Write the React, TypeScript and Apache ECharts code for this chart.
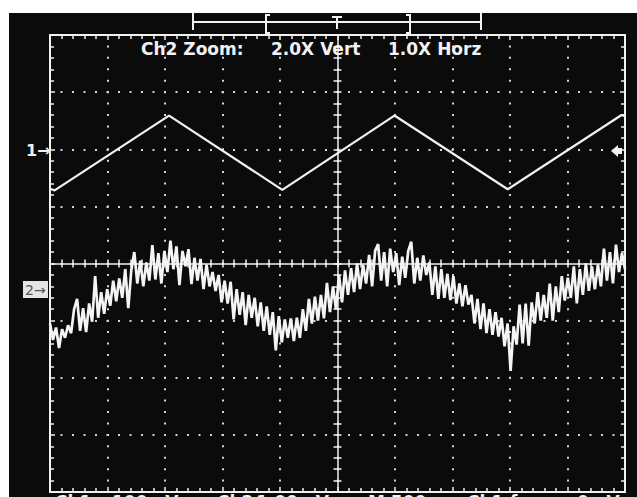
import React, { useEffect, useRef } from "react";
import * as echarts from "echarts";

// Horizontal: divisions from screen centre (500 ns/div); vertical: divisions from screen centre
const ch1Time = [-5, -4.92, -2.93, -0.96, 0.99, 2.96, 4.94, 5];
const ch1Level = [1.31, 1.28, 2.59, 1.29, 2.59, 1.3, 2.6, 2.58];

const ch2Level = [
  -1.05, -1.34, -1.12, -1.48, -1.15, -1.3, -1.08, -1.22, -0.8, -0.62,
  -1.18, -0.78, -1.2, -0.7, -1.02, -0.22, -0.95, -0.5, -0.88, -0.45,
  -0.74, -0.3, -0.66, -0.26, -0.6, -0.1, -0.78, -0.12, 0.2, -0.35,
  0.05, -0.4, 0.02, -0.3, 0.32, -0.28, 0.18, -0.35, 0.22, -0.15,
  0.4, -0.1, 0.3, -0.38, 0.22, -0.05, 0.25, -0.36, 0.1, -0.3,
  0.08, -0.45, -0.02, -0.4, -0.15, -0.48, -0.2, -0.68, -0.3, -0.7,
  -0.32, -0.98, -0.45, -0.9, -0.5, -1.08, -0.55, -0.95, -0.6, -1.1,
  -0.68, -1.18, -0.75, -1.25, -0.85, -1.52, -0.92, -1.38, -0.98, -1.3,
  -0.96, -1.36, -0.95, -1.3, -0.8, -1.18, -0.62, -1.05, -0.58, -1.0,
  -0.55, -0.96, -0.34, -0.85, -0.4, -0.8, -0.2, -0.68, -0.12, -0.55,
  -0.08, -0.5, 0.0, -0.45, -0.02, -0.35, 0.15, -0.4, 0.22, 0.34,
  -0.3, 0.2, -0.4, 0.26, -0.15, 0.18, -0.38, 0.12, -0.25, 0.22,
  0.38, -0.35, 0.1, -0.3, 0.14, -0.2, 0.02, -0.55, -0.05, -0.62,
  -0.1, -0.6, -0.18, -0.64, -0.22, -0.7, -0.35, -0.75, -0.38, -0.72,
  -0.55, -1.05, -0.62, -1.15, -0.7, -1.22, -0.8, -1.25, -0.85, -1.28,
  -0.95, -1.45, -1.05, -1.88, -1.1, -1.42, -0.72, -1.4, -0.7, -1.44,
  -0.68, -1.05, -0.5, -1.0, -0.55, -0.95, -0.35, -1.0, -0.4, -0.85,
  -0.22, -0.65, -0.25, -0.6, -0.05, -0.7, -0.1, -0.55, 0.0, -0.48,
  -0.05, -0.45, -0.02, -0.4, 0.26, -0.3, 0.2, -0.35, 0.33, -0.15,
  0.18, -0.1,
];

const headerTexts = ["Ch2 Zoom:", "2.0X Vert", "1.0X Horz"];
const footerTexts = ["Ch1", "100mV", "Ch2", "1.00mV", "M 500ns", "Ch1", "ƒ", "0mV"];

const TIME_MIN = -5;
const TIME_MAX = 5;
const LEVEL_MIN = -4;
const LEVEL_MAX = 4;

export default function App() {
  const ref = useRef<HTMLDivElement>(null);

  useEffect(() => {
    document.body.style.margin = "0";
    const chart = echarts.init(ref.current!, null, { renderer: "svg" });
    const white = "#f2f2f2";
    const dotColor = "#d6d6d6";
    const tickStyle = { color: white, width: 1.5 };

    const n = ch2Level.length;
    const ch2Data = ch2Level.map((v, i) => [TIME_MIN + (i * (TIME_MAX - TIME_MIN)) / (n - 1), v]);
    const ch1Data = ch1Time.map((t, i) => [t, ch1Level[i]]);

    const xBase = {
      type: "value",
      min: TIME_MIN,
      max: TIME_MAX,
      interval: 1,
      axisLabel: { show: false },
    };
    const yBase = {
      type: "value",
      min: LEVEL_MIN,
      max: LEVEL_MAX,
      interval: 1,
      axisLabel: { show: false },
    };

    const headerX = [141, 271, 388];
    const footerX = [55, 112, 217, 256, 368, 467, 510, 577];

    chart.setOption({
      animation: false,
      backgroundColor: "#0b0b0b",
      grid: { left: 50, top: 35, width: 575, height: 457 },
      xAxis: [
        {
          ...xBase,
          position: "bottom",
          axisLine: { show: true, onZero: false, lineStyle: { color: white, width: 2 } },
          axisTick: { show: true, inside: true, length: 5, lineStyle: tickStyle },
          minorTick: { show: true, splitNumber: 5, length: 4, lineStyle: tickStyle },
          splitLine: { show: true, lineStyle: { color: dotColor, width: 2, type: [2, 9.425], dashOffset: 1 } },
        },
        {
          ...xBase,
          position: "top",
          axisLine: { show: true, onZero: false, lineStyle: { color: white, width: 2 } },
          axisTick: { show: true, inside: true, length: 5, lineStyle: tickStyle },
          minorTick: { show: true, splitNumber: 5, length: 4, lineStyle: tickStyle },
          splitLine: { show: false },
        },
        {
          ...xBase,
          position: "bottom",
          axisLine: { show: true, onZero: true, onZeroAxisIndex: 0, lineStyle: { color: white, width: 1.5 } },
          axisTick: { show: true, inside: true, length: 4, lineStyle: tickStyle },
          minorTick: { show: true, splitNumber: 5, length: 4, lineStyle: tickStyle },
          splitLine: { show: false },
        },
        {
          ...xBase,
          position: "bottom",
          axisLine: { show: false, onZero: true, onZeroAxisIndex: 0 },
          axisTick: { show: true, inside: false, length: 4, lineStyle: tickStyle },
          minorTick: { show: true, splitNumber: 5, length: 4, lineStyle: tickStyle },
          splitLine: { show: false },
        },
      ],
      yAxis: [
        {
          ...yBase,
          position: "left",
          axisLine: { show: true, onZero: false, lineStyle: { color: white, width: 2 } },
          axisTick: { show: true, inside: true, length: 5, lineStyle: tickStyle },
          minorTick: { show: true, splitNumber: 5, length: 4, lineStyle: tickStyle },
          splitLine: { show: true, lineStyle: { color: dotColor, width: 2, type: [2, 9.5], dashOffset: 1 } },
        },
        {
          ...yBase,
          position: "right",
          axisLine: { show: true, onZero: false, lineStyle: { color: white, width: 2 } },
          axisTick: { show: true, inside: true, length: 5, lineStyle: tickStyle },
          minorTick: { show: true, splitNumber: 5, length: 4, lineStyle: tickStyle },
          splitLine: { show: false },
        },
        {
          ...yBase,
          position: "left",
          axisLine: { show: true, onZero: true, onZeroAxisIndex: 0, lineStyle: { color: white, width: 1.5 } },
          axisTick: { show: true, inside: true, length: 4, lineStyle: tickStyle },
          minorTick: { show: true, splitNumber: 5, length: 4, lineStyle: tickStyle },
          splitLine: { show: false },
        },
        {
          ...yBase,
          position: "left",
          axisLine: { show: false, onZero: true, onZeroAxisIndex: 0 },
          axisTick: { show: true, inside: false, length: 4, lineStyle: tickStyle },
          minorTick: { show: true, splitNumber: 5, length: 4, lineStyle: tickStyle },
          splitLine: { show: false },
        },
      ],
      series: [
        {
          name: "Ch1",
          type: "line",
          xAxisIndex: 0,
          yAxisIndex: 0,
          data: ch1Data,
          showSymbol: false,
          symbol: "none",
          lineStyle: { color: white, width: 2.2 },
          z: 5,
        },
        {
          name: "Ch2",
          type: "line",
          xAxisIndex: 0,
          yAxisIndex: 0,
          data: ch2Data,
          showSymbol: false,
          symbol: "none",
          lineStyle: { color: "#f4f4f4", width: 2.7, join: "miter", miterLimit: 3 },
          z: 5,
        },
      ],
      graphic: [
        // white photo margins
        { type: "rect", shape: { x: 0, y: 0, width: 637, height: 13 }, style: { fill: "#ffffff" }, z: 100 },
        { type: "rect", shape: { x: 0, y: 0, width: 9, height: 497 }, style: { fill: "#ffffff" }, z: 100 },
        // trigger position bracket
        { type: "line", shape: { x1: 193, y1: 22, x2: 481, y2: 22 }, style: { stroke: white, lineWidth: 2 } },
        { type: "line", shape: { x1: 193, y1: 13, x2: 193, y2: 30 }, style: { stroke: white, lineWidth: 2 } },
        { type: "line", shape: { x1: 481, y1: 13, x2: 481, y2: 30 }, style: { stroke: white, lineWidth: 2 } },
        { type: "polyline", shape: { points: [[270, 15], [266, 15], [266, 33], [270, 33]] }, style: { stroke: white, lineWidth: 2, fill: null } },
        { type: "polyline", shape: { points: [[406, 15], [410, 15], [410, 33], [406, 33]] }, style: { stroke: white, lineWidth: 2, fill: null } },
        { type: "line", shape: { x1: 332, y1: 17, x2: 342, y2: 17 }, style: { stroke: white, lineWidth: 2 } },
        { type: "line", shape: { x1: 337, y1: 17, x2: 337, y2: 29 }, style: { stroke: white, lineWidth: 2 } },
        // header
        ...headerTexts.map((t, i) => ({
          type: "text",
          x: headerX[i],
          y: 49,
          style: {
            text: t,
            fill: white,
            fontSize: 17,
            fontWeight: "bold",
            fontFamily: "DejaVu Sans",
            verticalAlign: "middle",
            align: "left",
          },
          z: 50,
        })),
        // footer (cut off by the photo's bottom edge, as in the original)
        ...footerTexts.map((t, i) => ({
          type: "text",
          x: footerX[i],
          y: 493,
          style: {
            text: t,
            fill: white,
            fontSize: 17,
            fontWeight: "bold",
            fontFamily: "DejaVu Sans",
            verticalAlign: "top",
            align: "left",
          },
          z: 50,
        })),
        // channel 1 marker
        {
          type: "text",
          x: 26,
          y: 150,
          style: { text: "1→", fill: white, fontSize: 16, fontWeight: "bold", fontFamily: "DejaVu Sans", verticalAlign: "middle" },
        },
        // channel 2 marker
        { type: "rect", shape: { x: 23, y: 281, width: 25, height: 17 }, style: { fill: "#e4e4e4" } },
        {
          type: "text",
          x: 25,
          y: 290,
          style: { text: "2→", fill: "#555555", fontSize: 14, fontFamily: "DejaVu Sans", verticalAlign: "middle" },
        },
        // trigger level arrow
        {
          type: "polygon",
          shape: { points: [[611, 151], [618, 145], [618, 148], [622, 148], [622, 154], [618, 154], [618, 157]] },
          style: { fill: white },
          z: 60,
        },
      ],
    });
    return () => chart.dispose();
  }, []);

  return <div ref={ref} style={{ width: 637, height: 497 }} />;
}
